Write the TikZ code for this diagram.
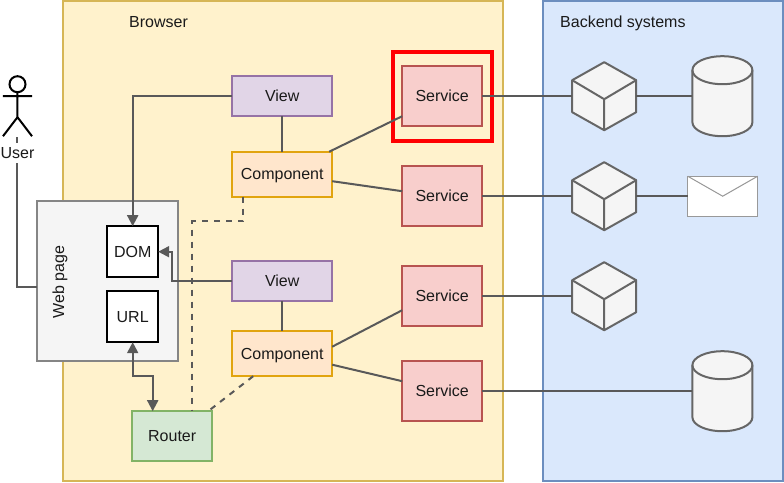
\documentclass[tikz,border=0pt]{standalone}
\usepackage{fontspec}
\setmainfont{Liberation Sans}
\usetikzlibrary{arrows.meta,calc}
\definecolor{yfill}{HTML}{FFF2CC}\definecolor{ydraw}{HTML}{D6B656}
\definecolor{bfill}{HTML}{DAE8FC}\definecolor{bdraw}{HTML}{6C8EBF}
\definecolor{pfill}{HTML}{E1D5E7}\definecolor{pdraw}{HTML}{9673A6}
\definecolor{ofill}{HTML}{FFE6CC}\definecolor{odraw}{HTML}{E1A40F}
\definecolor{rfill}{HTML}{F8CECC}\definecolor{rdraw}{HTML}{B85450}
\definecolor{gfill}{HTML}{D5E8D4}\definecolor{gdraw}{HTML}{82B366}
\definecolor{nfill}{HTML}{F5F5F5}\definecolor{ndraw}{HTML}{666666}
\definecolor{lin}{HTML}{595959}\definecolor{txt}{HTML}{1A1A1A}
\tikzset{
  every node/.style={font=\fontsize{16}{18}\selectfont,text=txt,inner sep=0pt,outer sep=0pt,text height=11pt,text depth=0pt},
  boxed/.style={draw,line width=2pt,minimum width=#1},
  viewbox/.style={boxed=100pt,minimum height=40pt,fill=pfill,draw=pdraw},
  compbox/.style={boxed=100pt,minimum height=45pt,fill=ofill,draw=odraw},
  servbox/.style={boxed=80pt,minimum height=60pt,fill=rfill,draw=rdraw},
  routerbox/.style={boxed=80pt,minimum height=50pt,fill=gfill,draw=gdraw},
  innerbox/.style={boxed=51pt,minimum height=51pt,fill=white,draw=black},
  areabox/.style={draw,line width=2pt,minimum width=#1,minimum height=480pt},
  conn/.style={draw=lin,line width=2pt},
  dashconn/.style={conn,dash pattern=on 6pt off 6pt},
  arrowconn/.style={conn,-{Triangle[length=11pt,width=11pt]}},
  twoarrow/.style={conn,{Triangle[length=11pt,width=11pt]}-{Triangle[length=11pt,width=11pt]}},
  grayline/.style={draw=ndraw,line width=2pt,line join=round,fill=nfill},
}
\newcommand{\cubeat}[3]{%
  \node[minimum width=64pt,minimum height=68pt] (#1) at (#2,#3) {};
  \path[grayline] (#2,#3-34) -- (#2+32,#3-16) -- (#2+32,#3+16) -- (#2,#3+34) -- (#2-32,#3+16) -- (#2-32,#3-16) -- cycle;
  \path[draw=ndraw,line width=2pt,line join=round] (#2-32,#3-16) -- (#2,#3+3) -- (#2+32,#3-16) (#2,#3+3) -- (#2,#3+34);
}
\newcommand{\cylat}[3]{%
  \node[minimum width=60pt,minimum height=80pt] (#1) at (#2,#3) {};
  \path[grayline] (#2-30,#3-26) arc[start angle=180,end angle=0,x radius=30pt,y radius=14pt]
    -- (#2+30,#3+26) arc[start angle=0,end angle=-180,x radius=30pt,y radius=14pt] -- cycle;
  \path[draw=ndraw,line width=2pt] (#2-30,#3-26) arc[start angle=180,end angle=360,x radius=30pt,y radius=14pt];
}
\begin{document}
\begin{tikzpicture}[x=1pt,y=-1pt]
\useasboundingbox (-0.2,-0.2) rectangle (783.8,481.8);
% areas
\node[areabox=440pt,fill=yfill,draw=ydraw] (browser) at (282.5,241) {};
\node[areabox=240pt,fill=bfill,draw=bdraw] (backend) at (662.3,241) {};
\node[anchor=west] (browserlab) at (129,22.2) {Browser};
\node[anchor=west] (backendlab) at (560,22.2) {Backend systems};
% actor
\coordinate (actorfoot) at (17.3,137);
\draw[line width=2pt,black] (17.3,84) circle[radius=8pt];
\draw[line width=2pt,black,line join=round] (2.8,96) -- (31.8,96) (17.3,92) -- (17.3,117) (2.8,136) -- (17.3,117) -- (31.8,136);
% web page
\node[boxed=141pt,minimum height=160pt,fill=nfill,draw=ndraw!80!white] (web) at (107.5,281) {};
\node[rotate=90] (weblab) at (58.5,282) {Web page};
\node[innerbox] (dom) at (132.5,251.5) {DOM};
\node[innerbox] (url) at (132.5,316.5) {URL};
% user connector and label
\draw[conn] (actorfoot) |- (web.west |- 0,287);
\node[fill=white,inner ysep=4.5pt] (userlab) at (17.3,153) {User};
% connector endpoints
\node[viewbox] (view1) at (282,96) {View};
\node[compbox] (comp1) at (282,174) {Component};
\node[viewbox] (view2) at (282,281) {View};
\node[compbox] (comp2) at (282,353.5) {Component};
\node[servbox] (serv1) at (442,96) {Service};
\node[servbox] (serv2) at (442,196) {Service};
\node[servbox] (serv3) at (442,296) {Service};
\node[servbox] (serv4) at (442,391) {Service};
\node[routerbox] (router) at (172,436) {Router};
\node[draw=red,line width=4pt,minimum width=99pt,minimum height=89pt] (redbox) at (442.5,96.5) {};
\cubeat{cube1}{604}{96}
\cubeat{cube2}{604}{196}
\cubeat{cube3}{604}{296}
\cylat{cyl1}{722.2}{96}
\cylat{cyl2}{722.2}{391}
\node[draw=black!40,line width=1pt,fill=white,minimum width=70pt,minimum height=40pt] (mail) at (722.5,196) {};
\draw[black!40,line width=1pt] (mail.north west) -- (mail.center) -- (mail.north east);
% connectors
\draw[conn] (view1) -- (comp1);
\draw[conn] (view2) -- (comp2);
\draw[arrowconn] (view1.west) -| (dom.north);
\coordinate (vb) at (172,281);
\draw[arrowconn] (view2.west) -- (vb) |- (dom.east);
\coordinate (urlmida) at (132.5,376);
\coordinate (urlmidb) at (152.5,376);
\draw[twoarrow] (url.south) -- (urlmida) -- (urlmidb) -- (urlmidb |- router.north);
\coordinate (d1) at (192,221);
\draw[dashconn] (comp1.south west) ++(11,0) |- (d1) -- (d1 |- router.north);
\draw[dashconn] (comp2.south west) ++(21,0) -- ($(router.north east)+(-4,0)$);
\draw[conn] (comp1.north east) ++(-3,0) -- ($(serv1.south west)+(0,-10)$);
\draw[conn] (comp1.east) ++(0,7) -- ($(serv2.west)+(0,-5)$);
\draw[conn] (comp2.east) ++(0,-7) -- ($(serv3.west)+(0,14)$);
\draw[conn] (comp2.east) ++(0,11) -- ($(serv4.west)+(0,-10)$);
\draw[conn] (serv1.east) -- (cube1.west);
\draw[conn] (cube1.east) -- (cyl1.west);
\draw[conn] (serv2.east) -- (cube2.west);
\draw[conn] (cube2.east) -- (mail.west);
\draw[conn] (serv3.east) -- (cube3.west);
\draw[conn] (serv4.east) -- (cyl2.west);
\end{tikzpicture}
\end{document}
